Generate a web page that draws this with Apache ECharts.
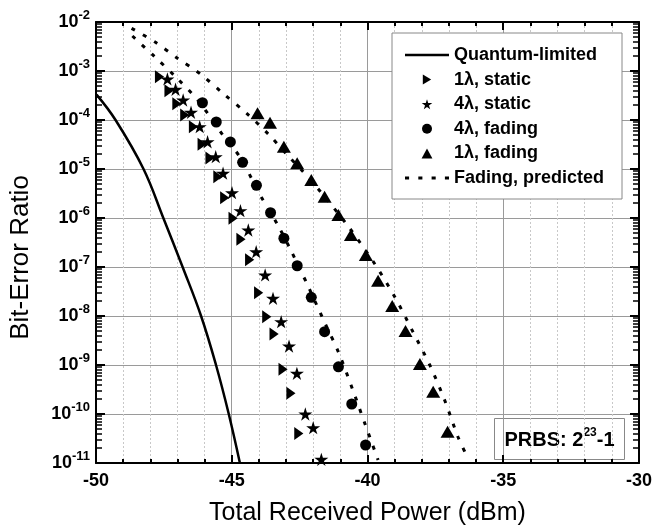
<!DOCTYPE html>
<html>
<head>
<meta charset="utf-8">
<script src="https://cdn.jsdelivr.net/npm/echarts@6/dist/echarts.min.js"></script>
<style>html,body{margin:0;padding:0;background:#fff;}#c{width:655px;height:531px;}</style>
</head>
<body>
<div id="c"></div>
<script>
// ---- data ----
const seriesNames = ['Quantum-limited', '1λ, static', '4λ, static', '4λ, fading', '1λ, fading', 'Fading, predicted'];
const xTickLabels = ['-50', '-45', '-40', '-35', '-30'];
const yTickExponents = [-11, -10, -9, -8, -7, -6, -5, -4, -3, -2];

const quantumX = [-49.98, -49.28, -48.25, -47.52, -46.81, -46.13, -45.58, -45.11, -44.70];
const quantumY = [3.3e-4, 1.0e-4, 1.0e-5, 1.0e-6, 1.0e-7, 1.0e-8, 1.0e-9, 1.0e-10, 1.0e-11];

const static1X = [-47.66, -47.31, -47.02, -46.73, -46.41, -46.09, -45.80, -45.51, -45.26, -44.95, -44.66, -44.34, -44.01, -43.71, -43.44, -43.11, -42.82, -42.53];
const static1Y = [7.66e-4, 3.97e-4, 2.15e-4, 1.27e-4, 7.3e-5, 3.19e-5, 1.68e-5, 6.96e-6, 2.6e-6, 9.9e-7, 3.67e-7, 1.41e-7, 2.99e-8, 9.7e-9, 4.3e-9, 8.2e-10, 2.64e-10, 4.0e-11];

const static4X = [-47.37, -47.07, -46.79, -46.50, -46.18, -45.89, -45.59, -45.32, -44.99, -44.68, -44.39, -44.10, -43.77, -43.48, -43.18, -42.89, -42.60, -42.29, -42.00, -41.70];
const static4Y = [6.87e-4, 4.24e-4, 2.56e-4, 1.44e-4, 7.3e-5, 3.6e-5, 1.78e-5, 8.2e-6, 3.28e-6, 1.41e-6, 5.69e-7, 2.05e-7, 6.87e-8, 2.3e-8, 7.66e-9, 2.44e-9, 6.78e-10, 1.0e-10, 5.25e-11, 1.19e-11];

const fading4X = [-46.08, -45.57, -45.05, -44.60, -44.09, -43.57, -43.08, -42.59, -42.07, -41.58, -41.07, -40.58, -40.07];
const fading4Y = [2.25e-4, 9.1e-5, 3.56e-5, 1.37e-5, 4.65e-6, 1.28e-6, 3.86e-7, 1.06e-7, 2.41e-8, 4.79e-9, 9.2e-10, 1.6e-10, 2.33e-11];

const fading1X = [-44.05, -43.59, -43.08, -42.59, -42.07, -41.58, -41.07, -40.61, -40.06, -39.61, -39.09, -38.60, -38.07, -37.58, -37.05];
const fading1Y = [1.37e-4, 8.8e-5, 2.85e-5, 1.31e-5, 5.97e-6, 2.72e-6, 1.15e-6, 4.5e-7, 1.76e-7, 5.25e-8, 1.6e-8, 4.94e-9, 1.05e-9, 2.85e-10, 4.35e-11];

const pred4X = [-48.66, -47.84, -47.03, -46.24, -45.33, -44.68, -43.99, -43.27, -42.81, -42.19, -41.62, -41.05, -40.55, -40.09, -39.61];
const pred4Y = [5.18e-3, 1.96e-3, 7.26e-4, 2.5e-4, 4.94e-5, 1.7e-5, 3.19e-6, 6.64e-7, 2.12e-7, 4.09e-8, 8.28e-9, 1.73e-9, 3.19e-10, 6.25e-11, 1.15e-11];

const pred1X = [-48.69, -47.84, -47.0, -46.14, -45.30, -44.45, -43.62, -42.84, -42.43, -41.68, -40.70, -39.76, -39.0, -38.33, -37.69, -37.15, -36.67, -36.30];
const pred1Y = [7.43e-3, 3.96e-3, 1.82e-3, 8.57e-4, 3.4e-4, 1.37e-4, 4.94e-5, 1.65e-5, 9.55e-6, 3.19e-6, 6.64e-7, 1.22e-7, 2.48e-8, 4.79e-9, 9.55e-10, 1.87e-10, 3.44e-11, 1.25e-11];

// ---- build ----
const zip = (xs, ys) => xs.map((x, i) => [x, ys[i]]);
const minorLog = [];
for (let e = yTickExponents[0]; e < yTickExponents[yTickExponents.length - 1]; e++) {
  for (let k = 2; k <= 9; k++) minorLog.push(e + Math.log10(k));
}
const FONT = '"Liberation Sans", Arial, Helvetica, sans-serif';
const STAR = 'path://M50,0 L61,35 L98,35 L68,57 L79,91 L50,70 L21,91 L32,57 L2,35 L39,35 Z';
const RTRI = 'path://M0,0 L10,6 L0,12 Z';
const UTRI = 'path://M6.5,0 L13,12 L0,12 Z';
const LINE_ICON = 'path://M0,0 H44 V2.5 H0 Z';
const DASH_ICON = 'path://M0,0 h4 v3 h-4 Z M13,0 h4 v3 h-4 Z M26,0 h4 v3 h-4 Z M39,0 h4 v3 h-4 Z';
const yMin = Math.pow(10, yTickExponents[0]);
const yMax = Math.pow(10, yTickExponents[yTickExponents.length - 1]);

const axisLine = { show: true, lineStyle: { color: '#000', width: 2 } };

const option = {
  animation: false,
  backgroundColor: '#fff',
  grid: { left: 92, top: 22, right: 15, bottom: 68, show: false },
  legend: {
    data: [
      { name: seriesNames[0], icon: LINE_ICON },
      { name: seriesNames[1] },
      { name: seriesNames[2] },
      { name: seriesNames[3] },
      { name: seriesNames[4] },
      { name: seriesNames[5], icon: DASH_ICON }
    ],
    orient: 'vertical',
    left: 392, top: 33,
    padding: [12, 18, 11, 13],
    backgroundColor: '#fff',
    borderColor: '#888', borderWidth: 1, borderRadius: 0,
    itemWidth: 44, itemHeight: 10, itemGap: 4.6,
    symbolKeepAspect: true,
    itemStyle: { color: '#000' },
    textStyle: { fontFamily: FONT, fontWeight: 'bold', fontSize: 18, color: '#000', lineHeight: 20 }
  },
  xAxis: [
    {
      type: 'value', min: -50, max: -30, interval: 5, position: 'bottom',
      axisLine: axisLine,
      axisTick: { inside: true, length: 8, lineStyle: { color: '#000', width: 2 } },
      minorTick: { show: true, splitNumber: 5, length: 4, lineStyle: { color: '#000', width: 2 } },
      axisLabel: { margin: 9, fontFamily: FONT, fontWeight: 'bold', fontSize: 18, color: '#000',
        formatter: (v) => xTickLabels[Math.round((v + 50) / 5)] },
      splitLine: { show: true, lineStyle: { color: '#9a9a9a', width: 1 } },
      minorSplitLine: { show: true, lineStyle: { color: '#c8c8c8', width: 1, type: [2, 2] } },
      name: 'Total Received Power (dBm)', nameLocation: 'middle', nameGap: 38,
      nameTextStyle: { fontFamily: FONT, fontSize: 25, color: '#000' }
    },
    {
      type: 'value', min: -50, max: -30, interval: 5, position: 'top',
      axisLine: axisLine,
      axisTick: { inside: true, length: 8, lineStyle: { color: '#000', width: 2 } },
      minorTick: { show: true, splitNumber: 5, length: 4, lineStyle: { color: '#000', width: 2 } },
      axisLabel: { show: false }, splitLine: { show: false }
    }
  ],
  yAxis: [
    {
      type: 'log', logBase: 10, min: yMin, max: yMax, interval: 1, position: 'left',
      axisLine: axisLine,
      axisTick: { inside: true, length: 9, lineStyle: { color: '#000', width: 2 } },
      axisLabel: {
        margin: 6, fontFamily: FONT, color: '#000',
        formatter: (v) => '{b|10}{s|' + Math.round(Math.log10(v)) + '}',
        rich: {
          b: { fontFamily: FONT, fontWeight: 'bold', fontSize: 18, lineHeight: 26, color: '#000', verticalAlign: 'middle' },
          s: { fontFamily: FONT, fontWeight: 'bold', fontSize: 13, lineHeight: 13, color: '#000', verticalAlign: 'top' }
        }
      },
      splitLine: { show: true, lineStyle: { color: '#9a9a9a', width: 1 } },
      name: 'Bit-Error Ratio', nameLocation: 'middle', nameGap: 62,
      nameTextStyle: { fontFamily: FONT, fontSize: 26, color: '#000', padding: [0, 30, 0, 0] }
    },
    {
      type: 'value', min: yTickExponents[0], max: yTickExponents[yTickExponents.length - 1], position: 'left',
      axisLine: { show: false },
      axisTick: { show: true, inside: true, length: 6, customValues: minorLog, lineStyle: { color: '#000', width: 1.5 } },
      axisLabel: { show: false }, splitLine: { show: false }
    },
    {
      type: 'log', logBase: 10, min: yMin, max: yMax, interval: 1, position: 'right',
      axisLine: axisLine,
      axisTick: { inside: true, length: 9, lineStyle: { color: '#000', width: 2 } },
      axisLabel: { show: false }, splitLine: { show: false }
    },
    {
      type: 'value', min: yTickExponents[0], max: yTickExponents[yTickExponents.length - 1], position: 'right',
      axisLine: { show: false },
      axisTick: { show: true, inside: true, length: 6, customValues: minorLog, lineStyle: { color: '#000', width: 1.5 } },
      axisLabel: { show: false }, splitLine: { show: false }
    }
  ],
  series: [
    {
      name: seriesNames[0], type: 'line', data: zip(quantumX, quantumY), smooth: 0.4,
      symbol: 'none', lineStyle: { color: '#000', width: 2.5 }, itemStyle: { color: '#000' }, z: 3
    },
    {
      name: seriesNames[5], type: 'line', data: zip(pred4X, pred4Y), smooth: 0.3,
      symbol: 'none', lineStyle: { color: '#000', width: 3, type: [4, 9] }, itemStyle: { color: '#000' }, z: 2
    },
    {
      name: seriesNames[5], type: 'line', data: zip(pred1X, pred1Y), smooth: 0.3,
      symbol: 'none', lineStyle: { color: '#000', width: 3, type: [4, 9] }, itemStyle: { color: '#000' }, z: 2
    },
    {
      name: seriesNames[1], type: 'scatter', data: zip(static1X, static1Y),
      symbol: RTRI, symbolSize: [11, 13], symbolKeepAspect: true, itemStyle: { color: '#000', opacity: 1 }, z: 4
    },
    {
      name: seriesNames[2], type: 'scatter', data: zip(static4X, static4Y),
      symbol: STAR, symbolSize: 14, symbolKeepAspect: true, itemStyle: { color: '#000', opacity: 1 }, z: 4
    },
    {
      name: seriesNames[3], type: 'scatter', data: zip(fading4X, fading4Y),
      symbol: 'circle', symbolSize: 11, itemStyle: { color: '#000', opacity: 1 }, z: 4
    },
    {
      name: seriesNames[4], type: 'scatter', data: zip(fading1X, fading1Y),
      symbol: UTRI, symbolSize: [14, 13], symbolKeepAspect: true, itemStyle: { color: '#000', opacity: 1 }, z: 4
    }
  ],
  graphic: [
    {
      type: 'group', left: 494, top: 418, z: 100,
      children: [
        { type: 'rect', shape: { x: 0, y: 0, width: 130, height: 41 }, style: { fill: '#fff', stroke: '#888', lineWidth: 1 } },
        { type: 'text', x: 65, y: 22,
          style: {
            text: '{b|PRBS: 2}{s|23}{b|-1}', align: 'center', verticalAlign: 'middle',
            rich: {
              b: { fontFamily: FONT, fontWeight: 'bold', fontSize: 20, lineHeight: 28, fill: '#000', verticalAlign: 'middle' },
              s: { fontFamily: FONT, fontWeight: 'bold', fontSize: 12, lineHeight: 12, fill: '#000', verticalAlign: 'top' }
            }
          }
        }
      ]
    }
  ]
};

const chart = echarts.init(document.getElementById('c'), null, { renderer: 'canvas' });
chart.setOption(option);
</script>
</body>
</html>
